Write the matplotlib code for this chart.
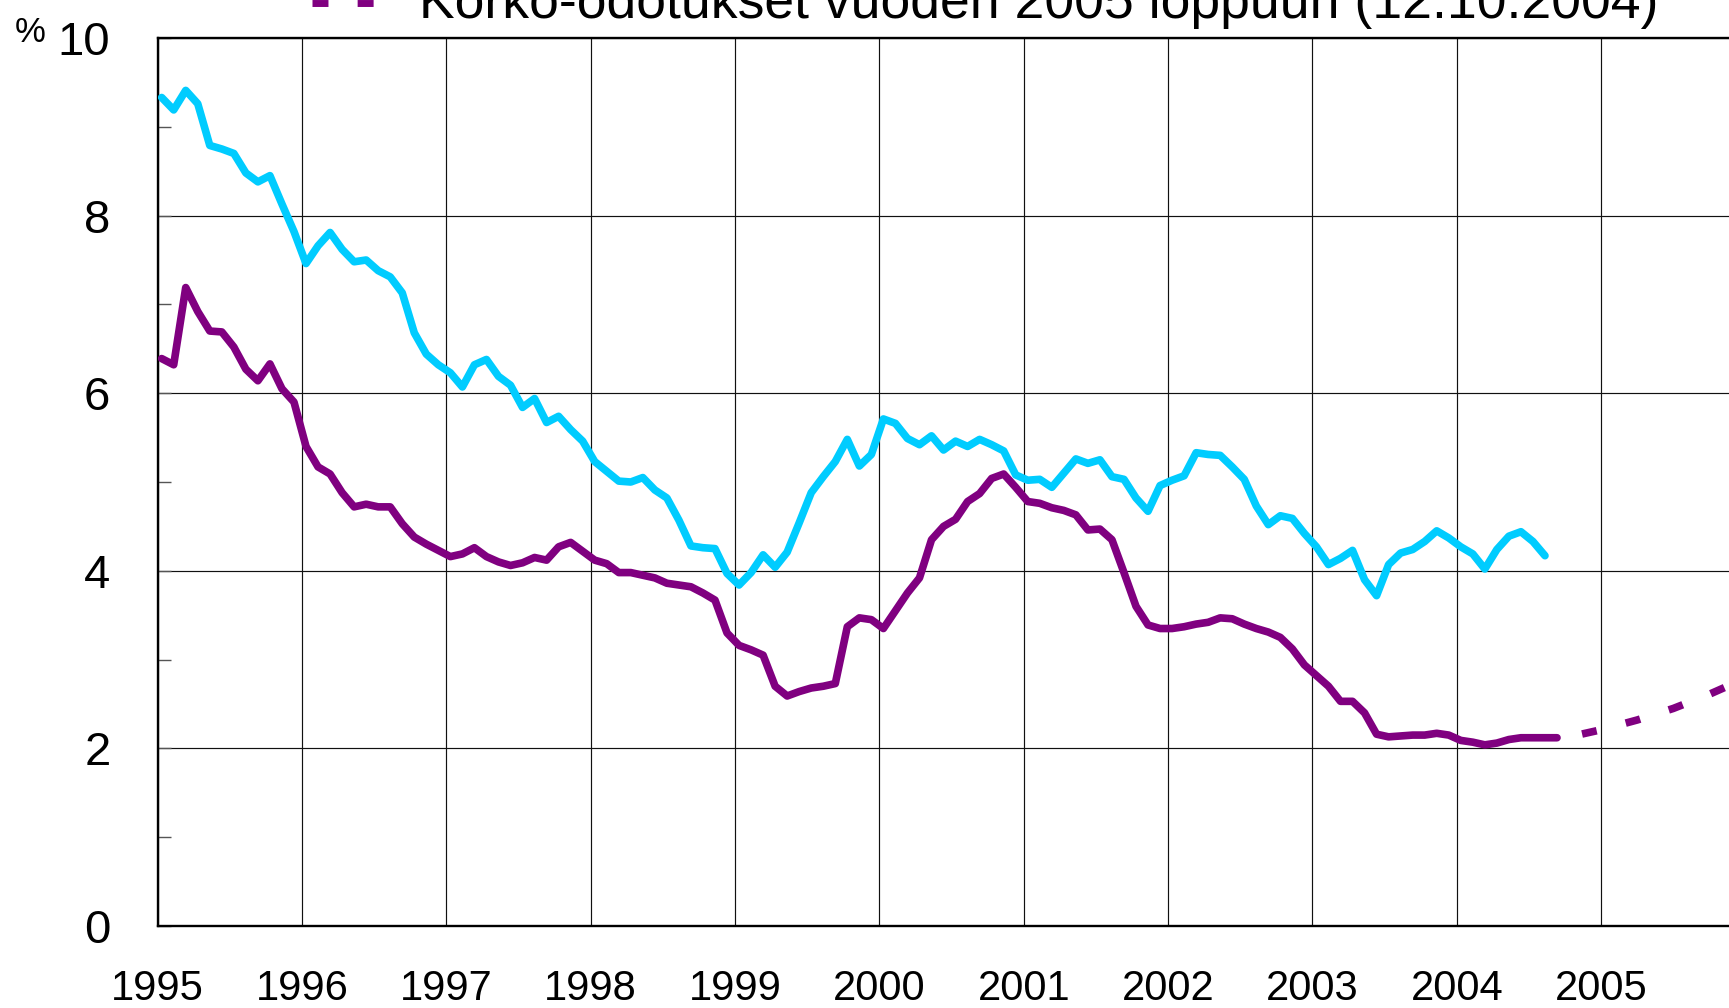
import numpy as np
import matplotlib
matplotlib.use("Agg")
import matplotlib.pyplot as plt
from matplotlib.lines import Line2D
from matplotlib.ticker import MultipleLocator

plt.rcParams['font.family'] = ['Liberation Sans', 'DejaVu Sans']

# ---- data (monthly, Jan 1995 onwards) ----
long_rate = [
    9.33, 9.19, 9.41, 9.26, 8.79, 8.75, 8.70, 8.48, 8.38, 8.45, 8.13, 7.82,
    7.46, 7.66, 7.81, 7.62, 7.48, 7.50, 7.38, 7.31, 7.13, 6.68, 6.44, 6.32,
    6.23, 6.07, 6.32, 6.38, 6.19, 6.09, 5.84, 5.94, 5.67, 5.74, 5.59, 5.46,
    5.23, 5.12, 5.01, 5.00, 5.05, 4.91, 4.82, 4.57, 4.28, 4.26, 4.25, 3.97,
    3.84, 3.98, 4.18, 4.04, 4.21, 4.54, 4.88, 5.06, 5.23, 5.48, 5.18, 5.31,
    5.71, 5.66, 5.49, 5.42, 5.52, 5.36, 5.46, 5.40, 5.48, 5.42, 5.35, 5.08,
    5.02, 5.03, 4.94, 5.10, 5.26, 5.21, 5.25, 5.06, 5.03, 4.82, 4.67, 4.96,
    5.02, 5.07, 5.33, 5.31, 5.30, 5.17, 5.03, 4.73, 4.52, 4.62, 4.59, 4.42,
    4.27, 4.07, 4.14, 4.23, 3.90, 3.72, 4.07, 4.20, 4.24, 4.33, 4.45, 4.37,
    4.27, 4.19, 4.02, 4.24, 4.39, 4.44, 4.33, 4.17,
]
short_rate = [
    6.39, 6.32, 7.19, 6.92, 6.70, 6.69, 6.52, 6.27, 6.14, 6.33, 6.05, 5.90,
    5.40, 5.17, 5.09, 4.88, 4.72, 4.75, 4.72, 4.72, 4.53, 4.38, 4.30, 4.23,
    4.16, 4.19, 4.26, 4.16, 4.10, 4.06, 4.09, 4.15, 4.12, 4.27, 4.32, 4.22,
    4.12, 4.08, 3.98, 3.98, 3.95, 3.92, 3.86, 3.84, 3.82, 3.75, 3.67, 3.30,
    3.16, 3.11, 3.05, 2.70, 2.59, 2.64, 2.68, 2.70, 2.73, 3.37, 3.47, 3.45,
    3.35, 3.55, 3.75, 3.92, 4.35, 4.50, 4.58, 4.78, 4.87, 5.04, 5.09, 4.94,
    4.78, 4.76, 4.71, 4.68, 4.63, 4.46, 4.47, 4.35, 3.98, 3.60, 3.39, 3.35,
    3.35, 3.37, 3.40, 3.42, 3.47, 3.46, 3.40, 3.35, 3.31, 3.25, 3.12, 2.94,
    2.82, 2.70, 2.53, 2.53, 2.40, 2.16, 2.13, 2.14, 2.15, 2.15, 2.17, 2.15,
    2.09, 2.07, 2.04, 2.06, 2.10, 2.12, 2.12, 2.12, 2.12,
]
forecast_x = [2004.78, 2005.0, 2005.25, 2005.5, 2005.75, 2006.0]
forecast_y = [2.13, 2.21, 2.32, 2.45, 2.61, 2.79]

years = list(range(1995, 2006))
year_labels = [str(y) for y in years]
y_major = [0, 2, 4, 6, 8, 10]
legend_text = "Korko-odotukset vuoden 2005 loppuun (12.10.2004)"

CYAN = "#00CCFF"
PURPLE = "#800080"
LW = 5.5

W, H = 1729, 1008
fig = plt.figure(figsize=(W / 100, H / 100), dpi=100)
ax = fig.add_axes([157.7 / W, 82 / H, (1745.5 - 157.7) / W, 888 / H])

x_long = 1995 + (np.arange(len(long_rate)) + 0.33) / 12
x_short = 1995 + (np.arange(len(short_rate)) + 0.33) / 12

ax.plot(x_long, long_rate, color=CYAN, lw=LW, solid_joinstyle='round',
        solid_capstyle='round', zorder=3)
ax.plot(x_short, short_rate, color=PURPLE, lw=LW, solid_joinstyle='round',
        solid_capstyle='round', zorder=3)
ax.plot(forecast_x, forecast_y, color=PURPLE, lw=LW,
        linestyle=(4.19, (1.96, 3.93)), dash_capstyle='butt', zorder=3)

ax.set_xlim(1995, 2006)
ax.set_ylim(0, 10)
ax.set_xticks(years)
ax.set_xticklabels(year_labels)
ax.set_yticks(y_major)
ax.yaxis.set_minor_locator(MultipleLocator(1))

ax.grid(True, which='major', color='#111111', lw=0.85)
ax.set_axisbelow(True)

ax.tick_params(axis='x', length=0, pad=31, labelsize=30)
ax.tick_params(axis='y', which='major', direction='in', length=9.5, width=1,
               color='#555555', pad=34, labelsize=34)
ax.tick_params(axis='y', which='minor', direction='in', length=9.5, width=1,
               color='#555555')

for side in ['left', 'bottom', 'top']:
    ax.spines[side].set_linewidth(1.7)
    ax.spines[side].set_color('black')
ax.spines['right'].set_visible(False)

# percent sign
fig.text(15 / W, 1 - 42 / H, "%", fontsize=25, va='baseline', ha='left')

# legend entry (partly cut at the top, as in the original)
leg_line = Line2D([312 / W, 375 / W], [1 - 3 / H, 1 - 3 / H], transform=fig.transFigure,
                  color=PURPLE, lw=5, linestyle=(0, (2.3, 4.2)), dash_capstyle='butt')
fig.add_artist(leg_line)
fig.text(419 / W, 1 - 18.3 / H, legend_text, fontsize=38.5, va='baseline', ha='left')

fig.savefig("out.png", dpi=100)
